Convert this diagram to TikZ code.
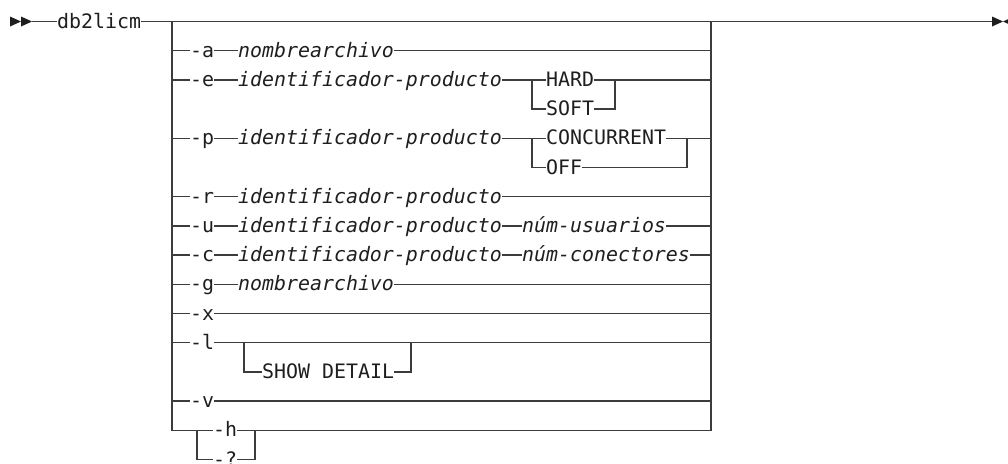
\documentclass[tikz,border=0pt]{standalone}
\usepackage{fontspec}
\newfontfamily\rrfont{DejaVu Sans Mono}
\usetikzlibrary{arrows.meta,positioning}
\definecolor{rrink} {HTML}{1E1E1E}
\definecolor{rrrule}{HTML}{3C3C3C}
\tikzset{
  rrkw/.style={font=\rrfont\fontsize{19.9}{22}\selectfont, text=rrink,
               inner sep=0pt, text height=15pt, text depth=2pt, anchor=west},
  rrvar/.style={rrkw, font=\rrfont\fontsize{19.9}{22}\selectfont\itshape},
  rrline/.style={draw=rrrule, line width=1.3pt},
  rrhead/.style={fill=rrink},
}

\begin{document}
\begin{tikzpicture}[x=1pt,y=-1pt]
  \useasboundingbox (0,0) rectangle (1008,463);

  % entry, command name and the empty top path
  \foreach \s in {10,21}
    {\fill[rrhead] (\s,16.5) -- (\s+11,21.5) -- (\s,26.5) -- cycle;}
  \coordinate (start) at (32,21.5);
  \node[rrkw] (cmd) at (57,21.5) {db2licm};
  \coordinate (lft)  at (172,21.5);
  \coordinate (rgt)  at (711,21.5);
  \coordinate (stop) at (992,21.5);
  \draw[rrline] (start) -- (cmd.west) (cmd.east) -- (stop);
  \fill[rrhead] (992,16.5) -- (1003,21.5) -- (992,26.5) -- cycle;
  \fill[rrhead] (1014,16.5) -- (1003,21.5) -- (1014,26.5) -- cycle;

  % -a
  \node[rrkw]  (oa)     at (190,50.7) {-a};
  \node[rrvar] (oafile) at (238,50.7) {nombrearchivo};
  \draw[rrline] (lft |- oa) -- (oa.west) (oa.east) -- (oafile.west)
                (oafile.east) -- (rgt |- oa);

  % -e with HARD / SOFT
  \node[rrkw]  (oe)     at (190,79.9) {-e};
  \node[rrvar] (oeprod) at (238,79.9) {identificador-producto};
  \node[rrkw]  (hard)   at (546,79.9) {HARD};
  \node[rrkw]  (soft)   at (546,109.1) {SOFT};
  \coordinate (eL) at (532,79.9);
  \coordinate (eR) at (615,79.9);
  \draw[rrline] (lft |- oe) -- (oe.west) (oe.east) -- (oeprod.west)
                (oeprod.east) -- (hard.west) (hard.east) -- (rgt |- hard);
  \draw[rrline] (eL) -- (eL |- soft) -- (soft.west)
                (soft.east) -- (eR |- soft) -- (eR);

  % -p with CONCURRENT / OFF
  \node[rrkw]  (op)     at (190,138.3) {-p};
  \node[rrvar] (opprod) at (238,138.3) {identificador-producto};
  \node[rrkw]  (conc)   at (546,138.3) {CONCURRENT};
  \node[rrkw]  (off)    at (546,167.5) {OFF};
  \coordinate (pL) at (532,138.3);
  \coordinate (pR) at (687,138.3);
  \draw[rrline] (lft |- op) -- (op.west) (op.east) -- (opprod.west)
                (opprod.east) -- (conc.west) (conc.east) -- (rgt |- conc);
  \draw[rrline] (pL) -- (pL |- off) -- (off.west)
                (off.east) -- (pR |- off) -- (pR);

  % -r
  \node[rrkw]  (or)     at (190,196.7) {-r};
  \node[rrvar] (orprod) at (238,196.7) {identificador-producto};
  \draw[rrline] (lft |- or) -- (or.west) (or.east) -- (orprod.west)
                (orprod.east) -- (rgt |- or);

  % -u
  \node[rrkw]  (ou)     at (190,225.9) {-u};
  \node[rrvar] (ouprod) at (238,225.9) {identificador-producto};
  \node[rrvar] (ouusr)  at (522,225.9) {núm-usuarios};
  \draw[rrline] (lft |- ou) -- (ou.west) (ou.east) -- (ouprod.west)
                (ouprod.east) -- (ouusr.west) (ouusr.east) -- (rgt |- ou);

  % -c
  \node[rrkw]  (oc)     at (190,255.1) {-c};
  \node[rrvar] (ocprod) at (238,255.1) {identificador-producto};
  \node[rrvar] (occon)  at (522,255.1) {núm-conectores};
  \draw[rrline] (lft |- oc) -- (oc.west) (oc.east) -- (ocprod.west)
                (ocprod.east) -- (occon.west) (occon.east) -- (rgt |- oc);

  % -g
  \node[rrkw]  (og)     at (190,284.3) {-g};
  \node[rrvar] (ogfile) at (238,284.3) {nombrearchivo};
  \draw[rrline] (lft |- og) -- (og.west) (og.east) -- (ogfile.west)
                (ogfile.east) -- (rgt |- og);

  % -x, -v
  \node[rrkw] (ox) at (190,313.5) {-x};
  \node[rrkw] (ov) at (190,401.1) {-v};
  \draw[rrline] (lft |- ox) -- (ox.west) (ox.east) -- (rgt |- ox);
  \draw[rrline] (lft |- ov) -- (ov.west) (ov.east) -- (rgt |- ov);

  % -l with SHOW DETAIL
  \node[rrkw] (ol)   at (190,342.7) {-l};
  \node[rrkw] (show) at (262,371.9) {SHOW DETAIL};
  \coordinate (lL) at (244,342.7);
  \coordinate (lR) at (411,342.7);
  \draw[rrline] (lft |- ol) -- (ol.west) (ol.east) -- (rgt |- ol);
  \draw[rrline] (lL) -- (lL |- show) -- (show.west)
                (show.east) -- (lR |- show) -- (lR);

  % -h / -? and the two verticals
  \node[rrkw] (oh) at (213,430.3) {-h};
  \node[rrkw] (oq) at (213,459.5) {-?};
  \coordinate (hL) at (197,430.3);
  \coordinate (hR) at (255,430.3);
  \draw[rrline] (lft) -- (lft |- oh) -- (oh.west) (oh.east) -- (hR)
                -- (rgt |- oh) -- (rgt);
  \draw[rrline] (hL) -- (hL |- oq) -- (oq.west)
                (oq.east) -- (hR |- oq) -- (hR);
\end{tikzpicture}
\end{document}
